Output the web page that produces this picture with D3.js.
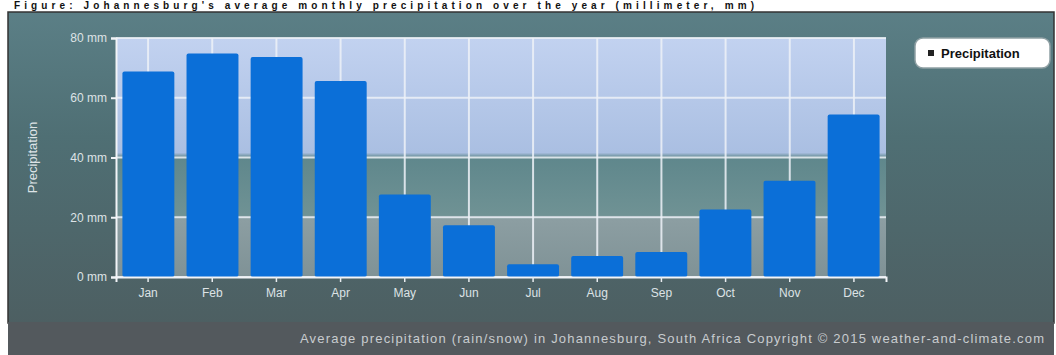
<!DOCTYPE html>
<html>
<head>
<meta charset="utf-8">
<script src="https://cdn.jsdelivr.net/npm/d3@7/dist/d3.min.js"></script>
<style>
  html, body { margin: 0; padding: 0; background: #ffffff; }
  svg { display: block; font-family: "Liberation Sans", Arial, sans-serif; }
</style>
</head>
<body>
<svg id="chart" width="1056" height="355"></svg>
<script>
const months = ["Jan", "Feb", "Mar", "Apr", "May", "Jun", "Jul", "Aug", "Sep", "Oct", "Nov", "Dec"];
const precipitation = [68.8, 74.8, 73.6, 65.6, 27.6, 17.3, 4.3, 7.0, 8.4, 22.6, 32.2, 54.4];
const yTicks = [0, 20, 40, 60, 80];
const yTickLabels = ["0 mm", "20 mm", "40 mm", "60 mm", "80 mm"];
const seriesName = "Precipitation";
const yTitle = "Precipitation";
const titleText = "Figure: Johannesburg's average monthly precipitation over the year (millimeter, mm)";
const footerText = "Average precipitation (rain/snow) in Johannesburg, South Africa   Copyright © 2015 weather-and-climate.com";

const svg = d3.select("#chart");
const W = 1056, H = 355;
const plot = { left: 116, right: 886, top: 38, bottom: 277 };

const defs = svg.append("defs");
const bgGrad = defs.append("linearGradient").attr("id", "outerBg")
  .attr("x1", 0).attr("y1", 0).attr("x2", 0).attr("y2", 1);
bgGrad.append("stop").attr("offset", "0%").attr("stop-color", "#5b7f86");
bgGrad.append("stop").attr("offset", "40%").attr("stop-color", "#4f6f74");
bgGrad.append("stop").attr("offset", "100%").attr("stop-color", "#4d5f62");

const plotGrad = defs.append("linearGradient").attr("id", "plotBg")
  .attr("x1", 0).attr("y1", 0).attr("x2", 0).attr("y2", 1);
plotGrad.append("stop").attr("offset", "0%").attr("stop-color", "#c2d2f0");
plotGrad.append("stop").attr("offset", "48%").attr("stop-color", "#aabfe2");
plotGrad.append("stop").attr("offset", "50%").attr("stop-color", "#5f878c");
plotGrad.append("stop").attr("offset", "74%").attr("stop-color", "#6f9294");
plotGrad.append("stop").attr("offset", "76%").attr("stop-color", "#8c9ea2");
plotGrad.append("stop").attr("offset", "100%").attr("stop-color", "#7f9296");

// white page margin and title
svg.append("rect").attr("x", 0).attr("y", 0).attr("width", W).attr("height", H).attr("fill", "#ffffff");
svg.append("text").attr("x", 14).attr("y", 9)
  .attr("font-size", 10).attr("font-weight", "bold").attr("fill", "#111")
  .attr("textLength", 740).attr("lengthAdjust", "spacing")
  .text(titleText);

// outer chart panel
svg.append("rect").attr("x", 8).attr("y", 12).attr("width", W - 10).attr("height", 311)
  .attr("fill", "url(#outerBg)").attr("stroke", "#333").attr("stroke-width", 1.5);
// footer strip
svg.append("rect").attr("x", 8).attr("y", 322).attr("width", W - 10).attr("height", 33)
  .attr("fill", "#53595d");
svg.append("text").attr("x", 300).attr("y", 343)
  .attr("font-size", 13).attr("fill", "#c8cccf")
  .attr("textLength", 744).attr("lengthAdjust", "spacing")
  .text(footerText);

const x = d3.scaleBand().domain(months).range([plot.left, plot.right]).paddingInner(0.19).paddingOuter(0.1);
const xGrid = d3.scaleBand().domain(months).range([plot.left, plot.right]);
const y = d3.scaleLinear().domain([0, 80]).range([plot.bottom, plot.top]);

// plot background
svg.append("rect").attr("x", plot.left).attr("y", plot.top)
  .attr("width", plot.right - plot.left).attr("height", plot.bottom - plot.top)
  .attr("fill", "url(#plotBg)");

// gridlines
const g = svg.append("g");
g.selectAll("line.hg").data(yTicks).join("line")
  .attr("x1", plot.left).attr("x2", plot.right)
  .attr("y1", d => y(d)).attr("y2", d => y(d))
  .attr("stroke", "#eef2f8").attr("stroke-width", 2).attr("opacity", 0.85);
g.selectAll("line.vg").data(months).join("line")
  .attr("x1", d => xGrid(d) + xGrid.bandwidth() / 2).attr("x2", d => xGrid(d) + xGrid.bandwidth() / 2)
  .attr("y1", plot.top).attr("y2", plot.bottom)
  .attr("stroke", "#eef2f8").attr("stroke-width", 2).attr("opacity", 0.85);

// bars
svg.append("g").selectAll("rect").data(precipitation).join("rect")
  .attr("x", (d, i) => x(months[i]))
  .attr("y", d => y(d))
  .attr("width", x.bandwidth())
  .attr("height", d => y(0) - y(d))
  .attr("rx", 2)
  .attr("fill", "#0b6fd8");

// axes
const yAxis = d3.axisLeft(y).tickValues(yTicks).tickFormat((d, i) => yTickLabels[i]).tickSize(5).tickPadding(4);
const ya = svg.append("g").attr("transform", `translate(${plot.left},0)`).call(yAxis);
ya.select(".domain").attr("stroke", "#f2f4f7").attr("stroke-width", 2);
ya.selectAll(".tick line").attr("stroke", "#f2f4f7").attr("stroke-width", 2);
ya.selectAll(".tick text").attr("fill", "#dde3e6").attr("font-size", 12)
  .attr("font-family", "Liberation Sans, Arial, sans-serif");

const xAxis = d3.axisBottom(xGrid).tickSize(5).tickPadding(6);
const xa = svg.append("g").attr("transform", `translate(0,${plot.bottom})`).call(xAxis);
xa.select(".domain").attr("stroke", "#f2f4f7").attr("stroke-width", 2);
xa.selectAll(".tick line").attr("stroke", "#e8ecef").attr("stroke-width", 1.5);
xa.selectAll(".tick text").attr("fill", "#dde3e6").attr("font-size", 12)
  .attr("font-family", "Liberation Sans, Arial, sans-serif");

// y title
svg.append("text").attr("transform", `translate(37,${(plot.top + plot.bottom) / 2}) rotate(-90)`)
  .attr("text-anchor", "middle").attr("font-size", 13).attr("fill", "#dde3e6").text(yTitle);

// legend
const lg = svg.append("g").attr("transform", "translate(915,38)");
lg.append("rect").attr("width", 135).attr("height", 30).attr("rx", 8)
  .attr("fill", "#ffffff").attr("stroke", "#8fa0a4").attr("stroke-width", 1.5);
lg.append("rect").attr("x", 13).attr("y", 12).attr("width", 6).attr("height", 6).attr("fill", "#222");
lg.append("text").attr("x", 26).attr("y", 20).attr("font-size", 13).attr("font-weight", "bold")
  .attr("fill", "#111").text(seriesName);
</script>
</body>
</html>
